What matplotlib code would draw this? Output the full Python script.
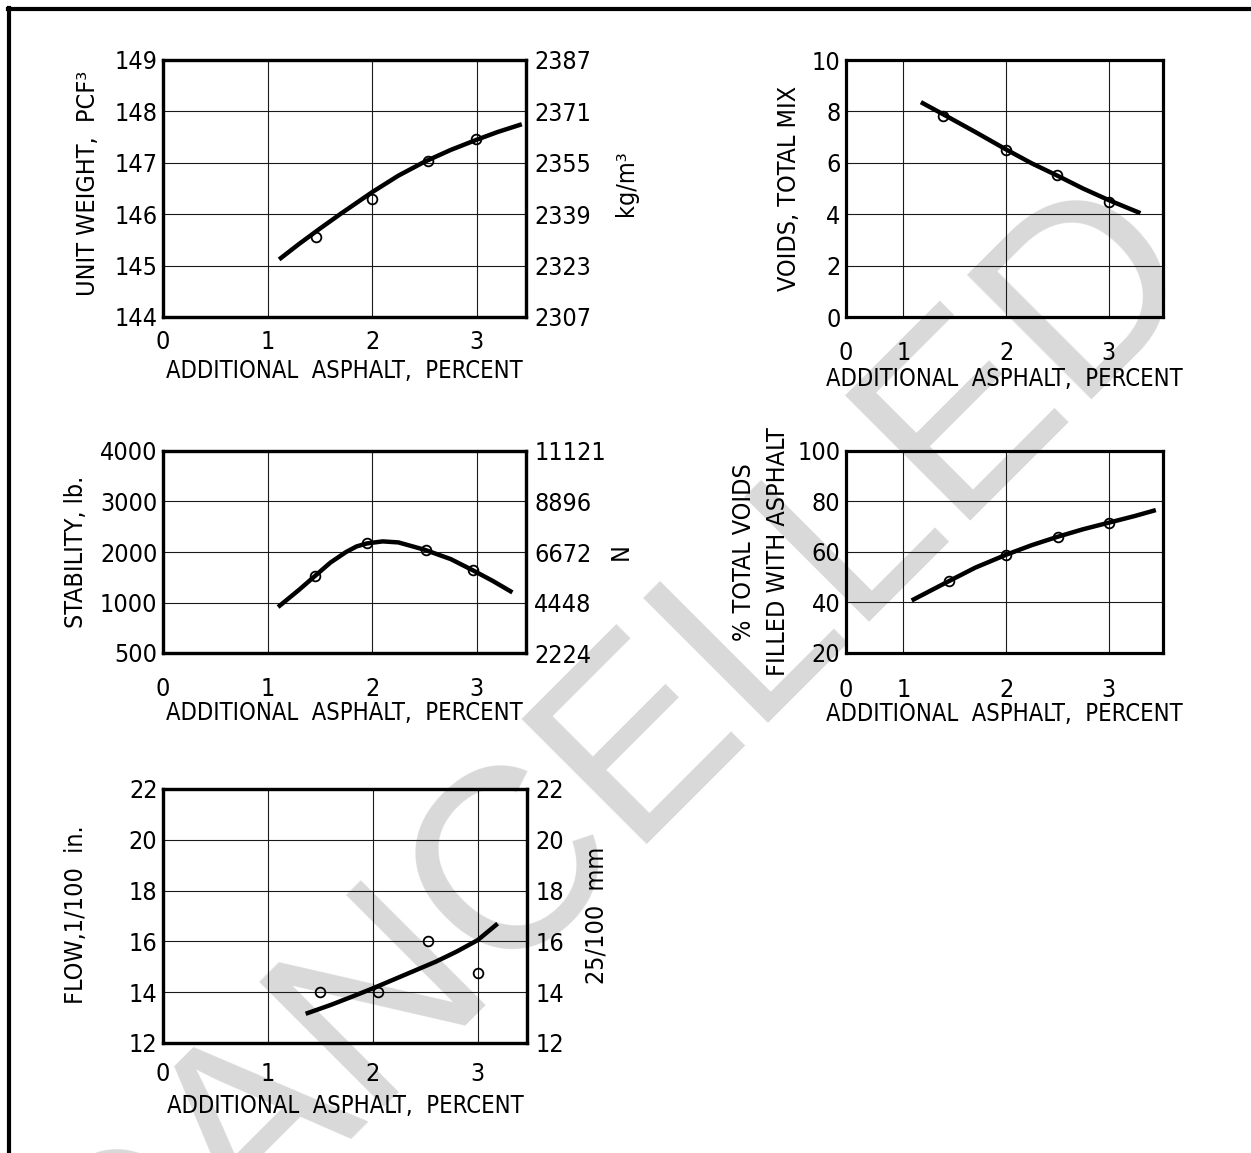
import matplotlib.pyplot as plt
from matplotlib.lines import Line2D

plt.rcParams["font.family"] = ["Liberation Sans Narrow", "DejaVu Sans"]
plt.rcParams["font.stretch"] = "condensed"
plt.rcParams["font.size"] = 18

# unit weight vs additional asphalt
uw_pts_x = [1.46, 2.0, 2.53, 2.99]
uw_pts_y = [145.56, 146.30, 147.04, 147.46]
uw_curve_x = [1.11, 1.3, 1.5, 1.7, 2.0, 2.25, 2.5, 2.75, 3.0, 3.2, 3.43]
uw_curve_y = [145.12, 145.42, 145.72, 146.01, 146.43, 146.75, 147.02, 147.25, 147.45, 147.60, 147.75]
uw_ticks = [144, 145, 146, 147, 148, 149]
uw_right_labels = ["2307", "2323", "2339", "2355", "2371", "2387"]

# voids, total mix
vtm_pts_x = [1.39, 2.0, 2.5, 3.0]
vtm_pts_y = [7.84, 6.51, 5.52, 4.47]
vtm_curve_x = [1.17, 1.4, 1.7, 2.0, 2.25, 2.5, 2.75, 3.0, 3.31]
vtm_curve_y = [8.36, 7.86, 7.2, 6.52, 5.98, 5.5, 5.0, 4.55, 4.04]
vtm_ticks = [0, 2, 4, 6, 8, 10]

# stability
stab_pts_x = [1.45, 1.95, 2.51, 2.96]
stab_pts_y = [1533, 2178, 2033, 1638]
stab_curve_x = [1.10, 1.3, 1.45, 1.6, 1.75, 1.85, 1.95, 2.1, 2.25, 2.5, 2.75, 2.96, 3.15, 3.34]
stab_curve_y = [910, 1250, 1520, 1790, 2000, 2110, 2170, 2210, 2190, 2045, 1860, 1640, 1430, 1200]
stab_ticks = [0, 1000, 2000, 3000, 4000]
stab_left_labels = ["500", "1000", "2000", "3000", "4000"]
stab_right_labels = ["2224", "4448", "6672", "8896", "11121"]

# voids filled with asphalt
vfa_pts_x = [1.44, 2.0, 2.51, 3.0]
vfa_pts_y = [48.6, 58.8, 66.1, 71.6]
vfa_curve_x = [1.08, 1.44, 1.7, 2.0, 2.25, 2.5, 2.75, 3.0, 3.25, 3.46]
vfa_curve_y = [40.8, 48.4, 53.8, 58.9, 62.7, 66.0, 69.0, 71.6, 74.2, 76.6]
vfa_ticks = [20, 40, 60, 80, 100]

# flow
flow_pts_x = [1.50, 2.05, 2.53, 3.0]
flow_pts_y = [14.0, 14.0, 16.0, 14.76]
flow_curve_x = [1.36, 1.6, 1.8, 2.0, 2.2, 2.4, 2.6, 2.8, 3.0, 3.19]
flow_curve_y = [13.15, 13.5, 13.82, 14.15, 14.5, 14.85, 15.2, 15.6, 16.05, 16.7]
flow_ticks = [12, 14, 16, 18, 20, 22]

x_ticks = [0, 1, 2, 3]
x_labels = ["0", "1", "2", "3"]
x_label_text = "ADDITIONAL  ASPHALT,  PERCENT"

W, H = 1251, 1153
fig = plt.figure(figsize=(W / 100, H / 100), dpi=100)


def box(l, t, r, b):
    return [l / W, 1 - b / H, (r - l) / W, (b - t) / H]


def panel(rect, xlim, xticks, yticks, ylabels, curve, pts, xpad,
          ylabel, ylabel_xy, xlabel_y, right=None):
    l, t, r, b = rect
    ax = fig.add_axes(box(l, t, r, b))
    ax.patch.set_visible(False)
    ax.set_xlim(*xlim)
    ax.set_ylim(yticks[0], yticks[-1])
    ax.set_xticks(xticks, labels=x_labels)
    ax.set_yticks(yticks, labels=ylabels)
    ax.grid(True, color="#1a1a1a", lw=0.8)
    ax.tick_params(length=0)
    ax.tick_params(axis="x", pad=xpad)
    ax.tick_params(axis="y", pad=4)
    for s in ax.spines.values():
        s.set_linewidth(2.3)
    ax.plot(curve[0], curve[1], color="black", lw=3.2, solid_capstyle="butt")
    ax.plot(pts[0], pts[1], "o", ms=7, mfc="none", mec="black", mew=1.3)

    ax.set_ylabel(ylabel, va="center", ha="center", linespacing=1.5)
    ax.yaxis.set_label_coords((ylabel_xy[0] - l) / (r - l),
                              (b - ylabel_xy[1]) / (b - t))
    ax.set_xlabel(x_label_text, va="center", fontsize=17)
    ax.xaxis.set_label_coords(0.5, (b - xlabel_y) / (b - t))

    if right is not None:
        rlabels, rtitle, rxy = right
        tw = ax.twinx()
        tw.patch.set_visible(False)
        tw.set_ylim(ax.get_ylim())
        tw.set_yticks(yticks, labels=rlabels)
        tw.tick_params(length=0, pad=6)
        for s in tw.spines.values():
            s.set_linewidth(2.3)
        tw.set_ylabel(rtitle, va="center", ha="center")
        tw.yaxis.set_label_coords((rxy[0] - l) / (r - l),
                                  (b - rxy[1]) / (b - t))
    return ax


panel((163, 60, 526, 317), (0, 3.47), x_ticks, uw_ticks,
      [str(v) for v in uw_ticks], (uw_curve_x, uw_curve_y),
      (uw_pts_x, uw_pts_y), 9, "UNIT WEIGHT,  PCF³", (88, 183), 371,
      right=(uw_right_labels, "kg/m³", (626, 183)))

# the 0-1 interval is drawn compressed on these two charts
short_ticks = [0.44, 1, 2, 3]
panel((846, 60, 1163, 317), (0.44, 3.53), short_ticks, vtm_ticks,
      [str(v) for v in vtm_ticks], (vtm_curve_x, vtm_curve_y),
      (vtm_pts_x, vtm_pts_y), 17, "VOIDS, TOTAL MIX", (789, 188), 379)

panel((163, 451, 526, 653), (0, 3.47), x_ticks, stab_ticks,
      stab_left_labels, (stab_curve_x, stab_curve_y),
      (stab_pts_x, stab_pts_y), 17, "STABILITY, lb.", (76, 552), 713,
      right=(stab_right_labels, "N", (621, 552)))

panel((846, 451, 1163, 653), (0.44, 3.53), short_ticks, vfa_ticks,
      [str(v) for v in vfa_ticks], (vfa_curve_x, vfa_curve_y),
      (vfa_pts_x, vfa_pts_y), 18, "% TOTAL VOIDS\nFILLED WITH ASPHALT",
      (761, 552), 714)

panel((163, 789, 527, 1043), (0, 3.47), x_ticks, flow_ticks,
      [str(v) for v in flow_ticks], (flow_curve_x, flow_curve_y),
      (flow_pts_x, flow_pts_y), 14, "FLOW,1/100  in.", (76, 915), 1106,
      right=([str(v) for v in flow_ticks], "25/100  mm", (596, 915)))

# page frame (left and top edges only)
fig.add_artist(Line2D([8.5 / W, 8.5 / W], [1 - 8 / H, 0], color="black", lw=3))
fig.add_artist(Line2D([8 / W, 1], [1 - 8.5 / H, 1 - 8.5 / H], color="black", lw=3))

# watermark
fig.text(612 / W, 1 - 772 / H, "CANCELLED", rotation=45, fontsize=185,
         color="#d9d9d9", ha="center", va="center",
         family=["Liberation Sans", "DejaVu Sans"], stretch="normal", zorder=-1)

fig.savefig("out.png", dpi=100, facecolor="white")
